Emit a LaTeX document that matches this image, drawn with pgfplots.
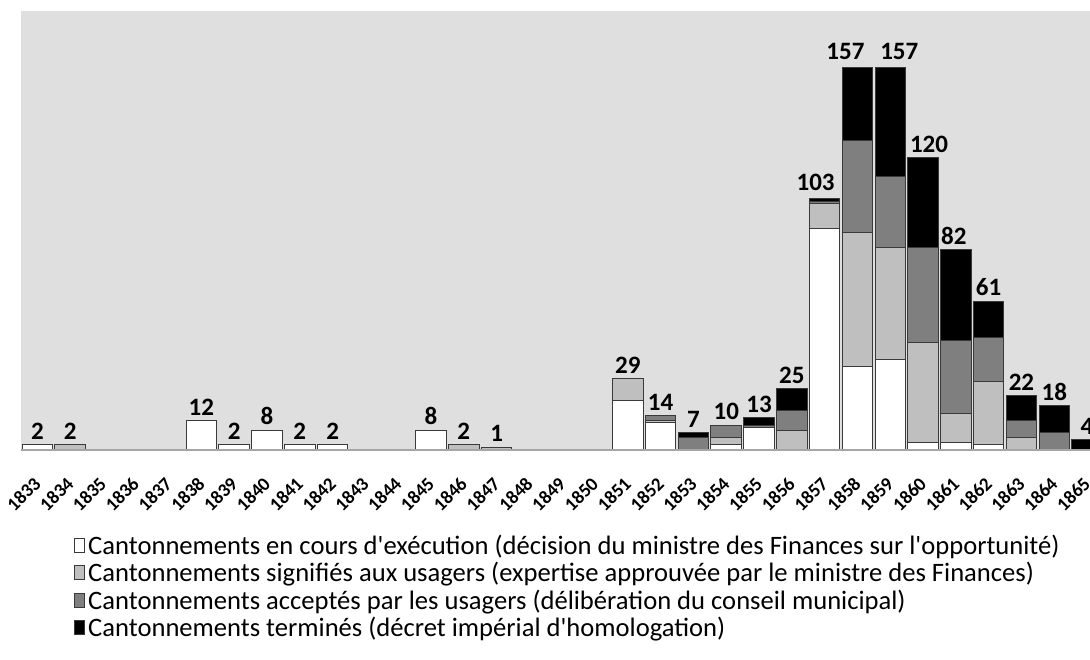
\documentclass[border=0pt]{standalone}
\usepackage{fontspec}
\setmainfont{Carlito}
\usepackage{pgfplots}
\pgfplotsset{compat=1.18}
\usepackage{pgfplotstable}
\definecolor{bggray}{HTML}{DFDFDF}
\definecolor{lgray}{HTML}{BFBFBF}
\definecolor{mgray}{HTML}{7F7F7F}
\definecolor{edge}{HTML}{3A3A3A}
\definecolor{axgray}{HTML}{A6A6A6}
\pgfplotsset{sqlegend/.style={legend image code/.code={\draw[##1] (0pt,-7pt) rectangle (10pt,7pt);}}}

\pgfplotstableread{
x w l m b
0 2 0 0 0
1 0 2 0 0
2 0 0 0 0
3 0 0 0 0
4 0 0 0 0
5 12 0 0 0
6 2 0 0 0
7 8 0 0 0
8 2 0 0 0
9 2 0 0 0
10 0 0 0 0
11 0 0 0 0
12 8 0 0 0
13 0 2 0 0
14 0 1 0 0
15 0 0 0 0
16 0 0 0 0
17 0 0 0 0
18 20 9 0 0
19 11 1 2 0
20 0 0 5 2
21 2 3 5 0
22 9 0 1 3
23 0 8 8 9
24 91 10 1 1
25 34 55 38 30
26 37 46 29 45
27 3 41 39 37
28 3 12 30 37
29 2 26 18 15
30 0 5 7 10
31 0 0 7 11
32 0 0 0 4
}\data

\pgfplotstableread{
x t
0 2
1 2
5 12
6 2
7 8
8 2
9 2
12 8
13 2
14 1
18 29
19 14
20 7
21 10
22 13
23 25
29 61
30 22
31 18
32 4
}\totals

\begin{document}
\begin{tikzpicture}
\useasboundingbox (0,0) rectangle (1090pt,659pt);
\begin{axis}[
  at={(21pt,209.5pt)}, anchor=south west,
  scale only axis, width=1069pt, height=438pt,
  xmin=-0.5, xmax=32.09, ymin=0, ymax=180,
  ybar stacked, bar width=30.5pt,
  axis on top,
  axis x line*=bottom, axis y line=none,
  x axis line style={draw=axgray, line width=2pt},
  axis background/.style={fill=bggray},
  ytick=\empty,
  xtick={0,...,32},
  xticklabels={1833,1834,1835,1836,1837,1838,1839,1840,1841,1842,1843,1844,1845,1846,1847,1848,1849,1850,1851,1852,1853,1854,1855,1856,1857,1858,1859,1860,1861,1862,1863,1864,1865},
  xtick style={draw=none},
  xticklabel style={yshift=-31pt, xshift=0pt, rotate=45, anchor=east, font=\bfseries\fontsize{19}{21}\selectfont, inner sep=0pt},
  legend cell align=left,
  legend style={at={(0.0496,-0.192)}, anchor=north west, draw=none, fill=none, inner sep=0pt,
    font=\fontsize{26.6}{32}\selectfont, row sep=4.5pt, column sep=2pt, nodes={inner sep=1pt}},
  every axis plot/.append style={draw=edge, line width=1pt},
]
\addplot[fill=white, sqlegend] table[x=x,y=w]{\data};
\addlegendentry{Cantonnements en cours d\textquotesingle exécution (décision du ministre des Finances sur l\textquotesingle opportunité)}
\addplot[fill=lgray, sqlegend] table[x=x,y=l]{\data};
\addlegendentry{Cantonnements signifiés aux usagers (expertise approuvée par le ministre des Finances)}
\addplot[fill=mgray, sqlegend] table[x=x,y=m]{\data};
\addlegendentry{Cantonnements acceptés par les usagers (délibération du conseil municipal)}
\addplot[fill=black, sqlegend] table[x=x,y=b]{\data};
\addlegendentry{Cantonnements terminés (décret impérial d\textquotesingle homologation)}
\end{axis}
\begin{axis}[
  at={(21pt,209.5pt)}, anchor=south west,
  scale only axis, width=1069pt, height=438pt,
  xmin=-0.5, xmax=32.09, ymin=0, ymax=180,
  hide axis, clip=false,
  /pgf/number format/assume math mode=true,
  lbl/.style={draw=none, mark=none, nodes near coords, point meta=explicit,
    nodes near coords style={font=\bfseries\fontsize{25}{30}\selectfont, anchor=south, inner sep=0pt, yshift=5pt, text=black}},
]
\addplot[lbl] table[x=x, y=t, meta=t]{\totals};
\addplot[lbl, nodes near coords style={xshift=-9pt, yshift=3pt}] coordinates {(24,103) [103]};
\addplot[lbl, nodes near coords style={xshift=-12pt, yshift=3pt}] coordinates {(25,157) [157]};
\addplot[lbl, nodes near coords style={xshift=9pt, yshift=3pt}] coordinates {(26,157) [157]};
\addplot[lbl, nodes near coords style={xshift=6pt}] coordinates {(27,120) [120]};
\addplot[lbl, nodes near coords style={xshift=-2pt}] coordinates {(28,82) [82]};
\end{axis}
\end{tikzpicture}
\end{document}
